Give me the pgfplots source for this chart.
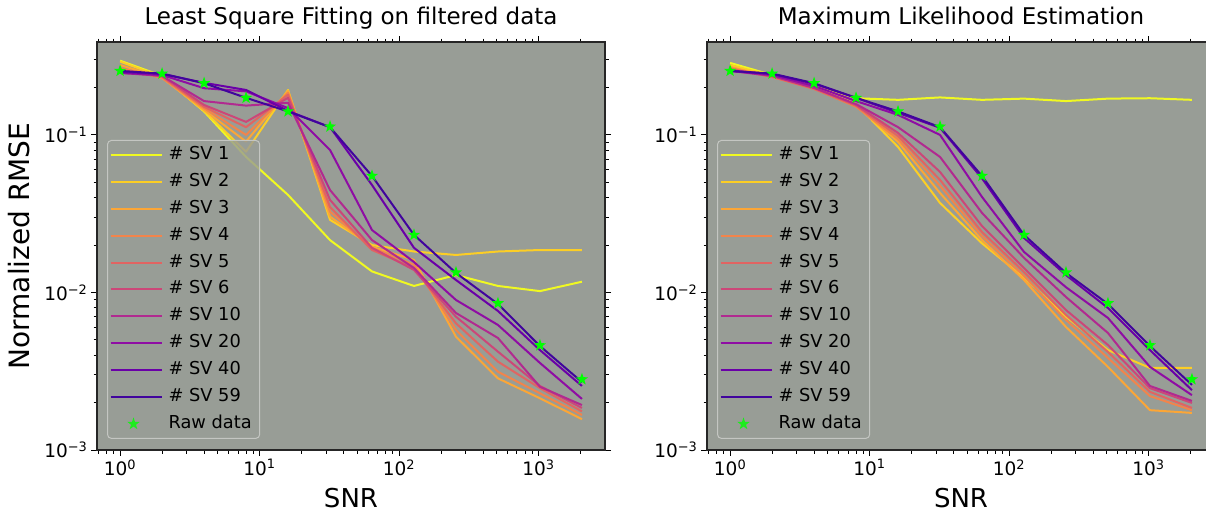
\documentclass[border=0pt]{standalone}
\usepackage{fontspec}
\setmainfont{DejaVu Sans}
\usepackage{pgfplots}
\usepackage{pgfplotstable}
\pgfplotsset{compat=1.18}

\definecolor{bgc}{RGB}{152,157,150}
\definecolor{lfr}{RGB}{196,198,194}
\definecolor{c1}{HTML}{F0F921}
\definecolor{c2}{HTML}{FCCE25}
\definecolor{c3}{HTML}{FCA636}
\definecolor{c4}{HTML}{F2844B}
\definecolor{c5}{HTML}{E16462}
\definecolor{c6}{HTML}{CC4778}
\definecolor{c10}{HTML}{B12A90}
\definecolor{c20}{HTML}{8F0DA4}
\definecolor{c40}{HTML}{6A00A8}
\definecolor{c59}{HTML}{41049D}
\definecolor{rawg}{RGB}{0,255,0}

\pgfdeclareplotmark{fstar}{%
  \pgfpathmoveto{\pgfpointpolar{90}{\pgfplotmarksize}}%
  \pgfpathlineto{\pgfpointpolar{126}{0.4\pgfplotmarksize}}%
  \pgfpathlineto{\pgfpointpolar{162}{\pgfplotmarksize}}%
  \pgfpathlineto{\pgfpointpolar{198}{0.4\pgfplotmarksize}}%
  \pgfpathlineto{\pgfpointpolar{234}{\pgfplotmarksize}}%
  \pgfpathlineto{\pgfpointpolar{270}{0.4\pgfplotmarksize}}%
  \pgfpathlineto{\pgfpointpolar{306}{\pgfplotmarksize}}%
  \pgfpathlineto{\pgfpointpolar{342}{0.4\pgfplotmarksize}}%
  \pgfpathlineto{\pgfpointpolar{18}{\pgfplotmarksize}}%
  \pgfpathlineto{\pgfpointpolar{54}{0.4\pgfplotmarksize}}%
  \pgfpathclose\pgfusepathqfill}

\pgfplotstableread{
snr  sv1    sv2    sv3     sv4     sv5     sv6     sv10    sv20    sv40    sv59    raw
1    0.296  0.292  0.278   0.266   0.259   0.251   0.2475  0.2475  0.251   0.255   0.255
2    0.237  0.2335 0.230   0.230   0.2335  0.237   0.237   0.240   0.244   0.245   0.245
4    0.141  0.142  0.144   0.148   0.151   0.155   0.164   0.198   0.214   0.213   0.213
8    0.0725 0.0783 0.0907  0.100   0.112   0.121   0.1535  0.189   0.193   0.172   0.172
16   0.0416 0.193  0.190   0.185   0.180   0.172   0.160   0.148   0.142   0.141   0.141
32   0.0215 0.0289 0.0303  0.0326  0.0349  0.0387  0.0447  0.0803  0.112   0.112   0.113
64   0.0136 0.0200 0.0195  0.0192  0.0186  0.0192  0.0215  0.0249  0.0481  0.0549  0.055
128  0.0110 0.0182 0.0161  0.0150  0.0143  0.0139  0.0143  0.0156  0.0192  0.0232  0.0232
256  0.0129 0.0173 0.00524 0.00578 0.00637 0.00702 0.00741 0.00896 0.0120  0.0133  0.0134
512  0.0110 0.0182 0.00285 0.00314 0.00364 0.00421 0.00514 0.00622 0.00763 0.00845 0.00854
1024 0.0102 0.0186 0.00213 0.00229 0.00247 0.00255 0.00252 0.00357 0.00431 0.00457 0.00462
2048 0.0117 0.0186 0.00157 0.00167 0.00176 0.00185 0.00193 0.00211 0.00255 0.00270 0.00281
}\lsq

\pgfplotstableread{
snr  sv1    sv2     sv3     sv4     sv5     sv6     sv10    sv20    sv40    sv59    raw
1    0.2865 0.278   0.270   0.266   0.262   0.259   0.255   0.255   0.255   0.255   0.255
2    0.240  0.237   0.2335  0.2335  0.2335  0.237   0.237   0.240   0.244   0.245   0.245
4    0.208  0.2017  0.199   0.196   0.196   0.199   0.199   0.2047  0.211   0.213   0.213
8    0.171  0.157   0.153   0.151   0.153   0.155   0.157   0.164   0.172   0.172   0.172
16   0.167  0.0839  0.0903  0.0943  0.0986  0.103   0.112   0.134   0.138   0.141   0.141
32   0.173  0.0370  0.0428  0.0475  0.0518  0.0582  0.0725  0.100   0.111   0.112   0.113
64   0.167  0.0205  0.0215  0.0228  0.0242  0.0264  0.0320  0.0404  0.053   0.0549  0.055
128  0.170  0.0124  0.0120  0.0127  0.0135  0.0143  0.0166  0.0181  0.0222  0.0232  0.0232
256  0.164  0.00702 0.00604 0.00669 0.00720 0.00774 0.00936 0.0108  0.0129  0.0133  0.0134
512  0.170  0.00431 0.00337 0.00384 0.00419 0.00464 0.00553 0.00689 0.00797 0.00845 0.00854
1024 0.171  0.00332 0.00179 0.00220 0.00234 0.00247 0.00255 0.00337 0.00431 0.00457 0.00462
2048 0.167  0.00332 0.00172 0.00179 0.00185 0.00199 0.00205 0.00223 0.00240 0.00259 0.00281
}\mle

\pgfplotsset{
  legend image code/.code={\path (0pt,0pt) -- (51pt,0pt); \draw[#1] (4pt,0pt) -- (42pt,0pt);},
  rawleg/.style={legend image code/.code={\path (0pt,0pt) -- (51pt,0pt); \draw[##1, draw=none] plot coordinates {(23pt,0pt)};}},
  every axis/.append style={
    width=508pt, height=408pt, scale only axis,
    xmin=0.683, xmax=2998, ymin=1e-3, ymax=0.389,
    axis background/.style={fill=bgc},
    axis line style={line width=1.2pt, black!85},
    tick align=outside, major tick length=6pt, minor tick length=3.5pt,
    every tick/.style={black, line width=0.9pt},
    xtick={1,10,100,1000},
    xticklabels={10\textsuperscript{0},10\textsuperscript{1},10\textsuperscript{2},10\textsuperscript{3}},
    minor xtick={0.7,0.8,0.9,2,3,4,5,6,7,8,9,20,30,40,50,60,70,80,90,200,300,400,500,600,700,800,900,2000},
    ytick={0.001,0.01,0.1},
    yticklabels={10\textsuperscript{−3},10\textsuperscript{−2},10\textsuperscript{−1}},
    minor ytick={0.002,0.003,0.004,0.005,0.006,0.007,0.008,0.009,0.02,0.03,0.04,0.05,0.06,0.07,0.08,0.09,0.2,0.3},
    tick label style={font=\fontsize{18.5}{22}\selectfont},
    title style={font=\fontsize{23}{26}\selectfont, at={(axis description cs:0.5,1.0294)}, anchor=base, inner sep=0pt},
    xlabel style={font=\fontsize{26}{30}\selectfont, at={(axis description cs:0.5,-0.142)}, anchor=base, inner sep=0pt},
    ylabel style={font=\fontsize{28}{32}\selectfont, at={(axis description cs:-0.132,0.5)}, anchor=base, inner sep=0pt},
    legend cell align=left,
    legend style={at={(axis description cs:0.0197,0.76)}, anchor=north west,
      fill=bgc, fill opacity=0.8, draw opacity=1, text opacity=1, draw=lfr,
      rounded corners=4pt, line width=1pt,
      font=\fontsize{17.8}{21}\selectfont,
      inner xsep=2pt, inner ysep=3pt, row sep=3.9pt,
      nodes={text height=13pt, text depth=4pt, inner ysep=3pt, inner xsep=6pt}},
  },
  every axis plot/.append style={line width=2pt, line join=round},
}

\begin{document}
\begin{tikzpicture}
\begin{loglogaxis}[at={(97pt,62pt)}, anchor=south west,
  title={Least Square Fitting on filtered data}, xlabel={SNR}, ylabel={Normalized RMSE}]
\addplot[c1]  table[x=snr,y=sv1]{\lsq};  \addlegendentry{\# SV 1}
\addplot[c2]  table[x=snr,y=sv2]{\lsq};  \addlegendentry{\# SV 2}
\addplot[c3]  table[x=snr,y=sv3]{\lsq};  \addlegendentry{\# SV 3}
\addplot[c4]  table[x=snr,y=sv4]{\lsq};  \addlegendentry{\# SV 4}
\addplot[c5]  table[x=snr,y=sv5]{\lsq};  \addlegendentry{\# SV 5}
\addplot[c6]  table[x=snr,y=sv6]{\lsq};  \addlegendentry{\# SV 6}
\addplot[c10] table[x=snr,y=sv10]{\lsq}; \addlegendentry{\# SV 10}
\addplot[c20] table[x=snr,y=sv20]{\lsq}; \addlegendentry{\# SV 20}
\addplot[c40] table[x=snr,y=sv40]{\lsq}; \addlegendentry{\# SV 40}
\addplot[c59] table[x=snr,y=sv59]{\lsq}; \addlegendentry{\# SV 59}
\addplot[only marks, mark=fstar, mark size=6.5pt, color=rawg, draw=none, rawleg]
  table[x=snr,y=raw]{\lsq}; \addlegendentry{Raw data}
\end{loglogaxis}
\begin{loglogaxis}[at={(707pt,62pt)}, anchor=south west,
  title={Maximum Likelihood Estimation}, xlabel={SNR}]
\addplot[c1]  table[x=snr,y=sv1]{\mle};  \addlegendentry{\# SV 1}
\addplot[c2]  table[x=snr,y=sv2]{\mle};  \addlegendentry{\# SV 2}
\addplot[c3]  table[x=snr,y=sv3]{\mle};  \addlegendentry{\# SV 3}
\addplot[c4]  table[x=snr,y=sv4]{\mle};  \addlegendentry{\# SV 4}
\addplot[c5]  table[x=snr,y=sv5]{\mle};  \addlegendentry{\# SV 5}
\addplot[c6]  table[x=snr,y=sv6]{\mle};  \addlegendentry{\# SV 6}
\addplot[c10] table[x=snr,y=sv10]{\mle}; \addlegendentry{\# SV 10}
\addplot[c20] table[x=snr,y=sv20]{\mle}; \addlegendentry{\# SV 20}
\addplot[c40] table[x=snr,y=sv40]{\mle}; \addlegendentry{\# SV 40}
\addplot[c59] table[x=snr,y=sv59]{\mle}; \addlegendentry{\# SV 59}
\addplot[only marks, mark=fstar, mark size=6.5pt, color=rawg, draw=none, rawleg]
  table[x=snr,y=raw]{\mle}; \addlegendentry{Raw data}
\end{loglogaxis}
\pgfresetboundingbox
\useasboundingbox (0pt,0pt) rectangle (1206pt,512pt);
\end{tikzpicture}
\end{document}
